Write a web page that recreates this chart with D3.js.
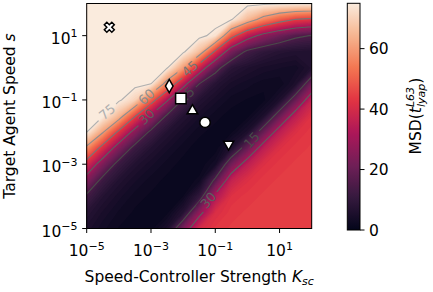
<!DOCTYPE html>
<html>
<head>
<meta charset="utf-8">
<script src="https://d3js.org/d3.v7.min.js"></script>
<style>
  body { margin: 0; background: #fff; }
  text { font-family: "DejaVu Sans", sans-serif; }
</style>
</head>
<body>
<script>
  // grid axes (log10 of K_sc and of s), rows run from s = 10^2 down to 10^-5
  var logK = [-5, -4.5, -4, -3.5, -3, -2.5, -2, -1.5, -1, -0.5, 0, 0.5, 1, 1.5, 2];
  var logS = [2, 1.5, 1, 0.5, 0, -0.5, -1, -1.5, -2, -2.5, -3, -3.5, -4, -4.5, -5];
  // MSD values
  var msd = [
    [79, 79, 79, 79, 79, 79, 79, 79, 79, 77.9, 76.8, 76.2, 75.7, 75.4, 75.2],
    [79, 79, 79, 79, 79, 79, 79, 79, 77.3, 75.4, 65.4, 56.3, 49.6, 44.7, 42.6],
    [79, 79, 79, 79, 79, 79, 78.3, 76.6, 73.2, 48.8, 35, 26.6, 21, 16.5, 14.7],
    [79, 79, 79, 79, 79, 77.6, 76.1, 66.2, 43, 22.5, 13.1, 9.4, 7.5, 6.7, 6.3],
    [79, 79, 79, 78.5, 77, 75.5, 60.6, 37.9, 18.5, 8.4, 6.1, 4.7, 4.1, 3.5, 6.3],
    [79, 78.9, 77.8, 76.6, 75, 55.5, 34.5, 15, 7.6, 4.6, 3.4, 2.4, 2.1, 5.5, 21.7],
    [78, 77.2, 76, 70.1, 50.5, 31.4, 14.2, 7.2, 4.4, 2.5, 1.9, 1.6, 5.5, 20, 36.5],
    [76.6, 75.5, 65, 45.8, 28.5, 13.6, 7.1, 4.2, 2.4, 1.5, 1.6, 5.5, 20, 35.2, 42.2],
    [75.1, 60.8, 42.6, 25.6, 12.8, 7, 4.3, 2.3, 1.5, 1.8, 5.5, 20, 35.2, 41.8, 43.6],
    [57.6, 40.7, 24, 11.8, 6.9, 4.3, 2.4, 1.4, 1.2, 6.3, 20, 35.2, 41.8, 43.5, 44.2],
    [39.9, 23.7, 11.7, 6.6, 4.3, 2.5, 1.6, 1, 3.8, 21.7, 35.2, 41.8, 43.5, 44.2, 44.4],
    [24.8, 12.1, 6.7, 4.2, 2.5, 1.7, 1, 2.4, 16.7, 36.5, 41.8, 43.5, 44.2, 44.4, 44.5],
    [13.3, 7.1, 4.4, 2.5, 1.8, 1, 2, 9.8, 32.5, 42.2, 43.5, 44.2, 44.4, 44.5, 44.5],
    [7.8, 4.8, 2.8, 1.8, 1, 1.6, 7.2, 26.5, 41, 43.6, 44.2, 44.4, 44.5, 44.5, 44.5],
    [5.6, 3.3, 1.9, 1, 1.4, 5.5, 23.3, 39.6, 43.3, 44.2, 44.4, 44.5, 44.5, 44.5, 44.5]
  ];
  var levels = [15, 30, 45, 60, 75];
  // the marked runs
  var runK = [5.05e-5, 3.7e-3, 8.5e-3, 0.0195, 0.048, 0.26];
  var runS = [18.2, 0.27, 0.11, 0.046, 0.02, 0.0042];
  var runShape = ["X", "d", "s", "^", "o", "v"];
  var xTicks = [1e-5, 1e-3, 1e-1, 1e1];
  var yTicks = [1e-5, 1e-3, 1e-1, 1e1];
  var cbTicks = [0, 20, 40, 60];

  var rocketStops = ["#03051a", "#35193e", "#701f57", "#ad1759", "#e13342", "#f37651", "#f6b48f", "#faebdd"];
  var lineColor = {15: "#4a4a4a", 30: "#5e5e5e", 45: "#767676", 60: "#8e8e8e", 75: "#b0b0b0"};

  var svg = d3.select("body").append("svg").attr("width", 433).attr("height", 292);

  var x = d3.scaleLog().domain([1e-5, 1e2]).range([86.7, 311.7]);
  var y = d3.scaleLog().domain([1e-5, 1e2]).range([228.5, 3.5]);
  var rocket = d3.piecewise(d3.interpolateRgb, rocketStops);
  var color = function(v) { return rocket(Math.max(0, Math.min(1, v / 75))); };

  var nx = logK.length, ny = logS.length;
  var values = [].concat.apply([], msd);
  var gx = d3.scaleLinear().domain([0.5, nx - 0.5])
             .range([x(Math.pow(10, logK[0])), x(Math.pow(10, logK[nx - 1]))]);
  var gy = d3.scaleLinear().domain([0.5, ny - 0.5])
             .range([y(Math.pow(10, logS[0])), y(Math.pow(10, logS[ny - 1]))]);
  var path = d3.geoPath(d3.geoTransform({
    point: function(a, b) { this.stream.point(gx(a), gy(b)); }
  }));

  var defs = svg.append("defs");
  defs.append("clipPath").attr("id", "plotclip").append("rect")
      .attr("x", x(1e-5)).attr("y", y(1e2))
      .attr("width", x(1e2) - x(1e-5)).attr("height", y(1e-5) - y(1e2));

  // contour label spots (in data coords) and their rotation
  var labelSpots = [
    {level: 75, k: Math.pow(10, -4.37), s: Math.pow(10, -1.37), angle: -40},
    {level: 60, k: Math.pow(10, -3.14), s: Math.pow(10, -0.90), angle: -41},
    {level: 30, k: Math.pow(10, -3.14), s: Math.pow(10, -1.52), angle: -44},
    {level: 45, k: Math.pow(10, -1.79), s: Math.pow(10, -0.02), angle: -42},
    {level: 15, k: Math.pow(10, -1.90), s: Math.pow(10, -0.84), angle: -42},
    {level: 15, k: Math.pow(10, 0.13), s: Math.pow(10, -2.25), angle: -47},
    {level: 30, k: Math.pow(10, -1.22), s: Math.pow(10, -4.12), angle: -50}
  ];

  var mask = defs.append("mask").attr("id", "lblmask").attr("maskUnits", "userSpaceOnUse")
      .attr("x", 0).attr("y", 0).attr("width", 433).attr("height", 292);
  mask.append("rect").attr("width", 433).attr("height", 292).attr("fill", "white");
  mask.selectAll("rect.gap").data(labelSpots).enter().append("rect")
      .attr("x", -12).attr("y", -6).attr("width", 24).attr("height", 12)
      .attr("fill", "black")
      .attr("transform", function(d) { return "translate(" + x(d.k) + "," + y(d.s) + ") rotate(" + d.angle + ")"; });

  var plot = svg.append("g").attr("clip-path", "url(#plotclip)");

  // filled heat map, one band per MSD unit
  var bands = d3.contours().size([nx, ny]).thresholds(d3.range(0, 76, 1))(values);
  plot.append("g").selectAll("path").data(bands).enter().append("path")
      .attr("d", path)
      .attr("fill", function(d) { return color(d.value + 0.5); });

  // contour lines
  var lines = d3.contours().size([nx, ny]).thresholds(levels)(values);
  plot.append("g").attr("mask", "url(#lblmask)")
      .selectAll("path").data(lines).enter().append("path")
      .attr("d", path)
      .attr("fill", "none")
      .attr("stroke", function(d) { return lineColor[d.value]; })
      .attr("stroke-width", 1.1);

  plot.append("g").selectAll("text").data(labelSpots).enter().append("text")
      .attr("transform", function(d) { return "translate(" + x(d.k) + "," + y(d.s) + ") rotate(" + d.angle + ")"; })
      .attr("text-anchor", "middle").attr("dy", "0.36em")
      .attr("font-size", 13)
      .attr("fill", function(d) { return lineColor[d.level]; })
      .text(function(d) { return d.level; });

  // markers
  var symType = {X: d3.symbolCross, d: d3.symbolDiamond, s: d3.symbolSquare, "^": d3.symbolTriangle, o: d3.symbolCircle, v: d3.symbolTriangle};
  var symSize = {X: 62, d: 50, s: 110, "^": 48, o: 85, v: 45};
  var symRot = {X: 45, d: 0, s: 0, "^": 0, o: 0, v: 180};
  svg.append("g").selectAll("path").data(runK).enter().append("path")
      .attr("d", function(d, i) { return d3.symbol().type(symType[runShape[i]]).size(symSize[runShape[i]])(); })
      .attr("transform", function(d, i) {
        return "translate(" + x(d) + "," + y(runS[i]) + ") rotate(" + symRot[runShape[i]] + ")";
      })
      .attr("fill", "white").attr("stroke", "black").attr("stroke-width", 1.5)
      .attr("stroke-linejoin", "miter");

  // frame
  svg.append("rect")
      .attr("x", x(1e-5)).attr("y", y(1e2))
      .attr("width", x(1e2) - x(1e-5)).attr("height", y(1e-5) - y(1e2))
      .attr("fill", "none").attr("stroke", "black").attr("stroke-width", 1);

  var expo = function(t) { return String(Math.round(Math.log10(t))).replace("-", "\u2212"); };

  // x ticks
  var xt = svg.append("g").selectAll("g").data(xTicks).enter().append("g");
  xt.append("line").attr("x1", function(d) { return x(d); }).attr("x2", function(d) { return x(d); })
      .attr("y1", 228.5).attr("y2", 233).attr("stroke", "black").attr("stroke-width", 1);
  var xtt = xt.append("text").attr("x", function(d) { return x(d); }).attr("y", 256)
      .attr("text-anchor", "middle").attr("font-size", 15.5);
  xtt.append("tspan").text("10");
  xtt.append("tspan").attr("dy", -6.5).attr("font-size", 11).text(expo);

  // y ticks
  var yt = svg.append("g").selectAll("g").data(yTicks).enter().append("g");
  yt.append("line").attr("y1", function(d) { return y(d); }).attr("y2", function(d) { return y(d); })
      .attr("x1", 82.2).attr("x2", 86.7).attr("stroke", "black").attr("stroke-width", 1);
  var ytt = yt.append("text").attr("x", 77.5).attr("y", function(d) { return y(d) + 8; })
      .attr("text-anchor", "end").attr("font-size", 15.5);
  ytt.append("tspan").text("10");
  ytt.append("tspan").attr("dy", -6.5).attr("font-size", 11).text(expo);

  // axis labels
  var xl = svg.append("text").attr("x", (x(1e-5) + x(1e2)) / 2).attr("y", 281.5)
      .attr("text-anchor", "middle").attr("font-size", 15.5);
  xl.append("tspan").text("Speed-Controller Strength ");
  xl.append("tspan").attr("font-style", "italic").text("K");
  xl.append("tspan").attr("font-style", "italic").attr("font-size", 11).attr("dy", 3.5).text("sc");

  var yl = svg.append("text").attr("transform", "translate(15," + ((y(1e2) + y(1e-5)) / 2) + ") rotate(-90)")
      .attr("text-anchor", "middle").attr("font-size", 15.5);
  yl.append("tspan").text("Target Agent Speed ");
  yl.append("tspan").attr("font-style", "italic").text("s");

  // colorbar
  var cb = d3.scaleLinear().domain([0, 75]).range([230, 3.3]);
  var grad = defs.append("linearGradient").attr("id", "cbgrad")
      .attr("x1", 0).attr("y1", 1).attr("x2", 0).attr("y2", 0);
  grad.selectAll("stop").data(d3.range(0, 1.0001, 0.02)).enter().append("stop")
      .attr("offset", function(d) { return d; })
      .attr("stop-color", function(d) { return color(d * 75); });
  svg.append("rect").attr("x", 347.3).attr("y", cb(75)).attr("width", 12.7).attr("height", cb(0) - cb(75))
      .attr("fill", "url(#cbgrad)").attr("stroke", "black").attr("stroke-width", 1);
  var ct = svg.append("g").selectAll("g").data(cbTicks).enter().append("g");
  ct.append("line").attr("x1", 360).attr("x2", 364.5)
      .attr("y1", function(d) { return cb(d); }).attr("y2", function(d) { return cb(d); })
      .attr("stroke", "black").attr("stroke-width", 1);
  ct.append("text").attr("x", 369).attr("y", function(d) { return cb(d) + 5.7; })
      .attr("font-size", 15.5).text(function(d) { return d; });

  var cl = svg.append("text").attr("transform", "translate(421,116) rotate(-90)")
      .attr("text-anchor", "middle").attr("font-size", 15.5);
  cl.append("tspan").text("MSD(");
  cl.append("tspan").attr("font-style", "italic").text("t");
  cl.append("tspan").attr("font-style", "italic").attr("font-size", 11).attr("dy", -7).text("L63");
  cl.append("tspan").attr("font-style", "italic").attr("font-size", 11).attr("dx", -20).attr("dy", 10.5).text("lyap");
  cl.append("tspan").attr("dy", -3.5).text(")");
</script>
</body>
</html>
